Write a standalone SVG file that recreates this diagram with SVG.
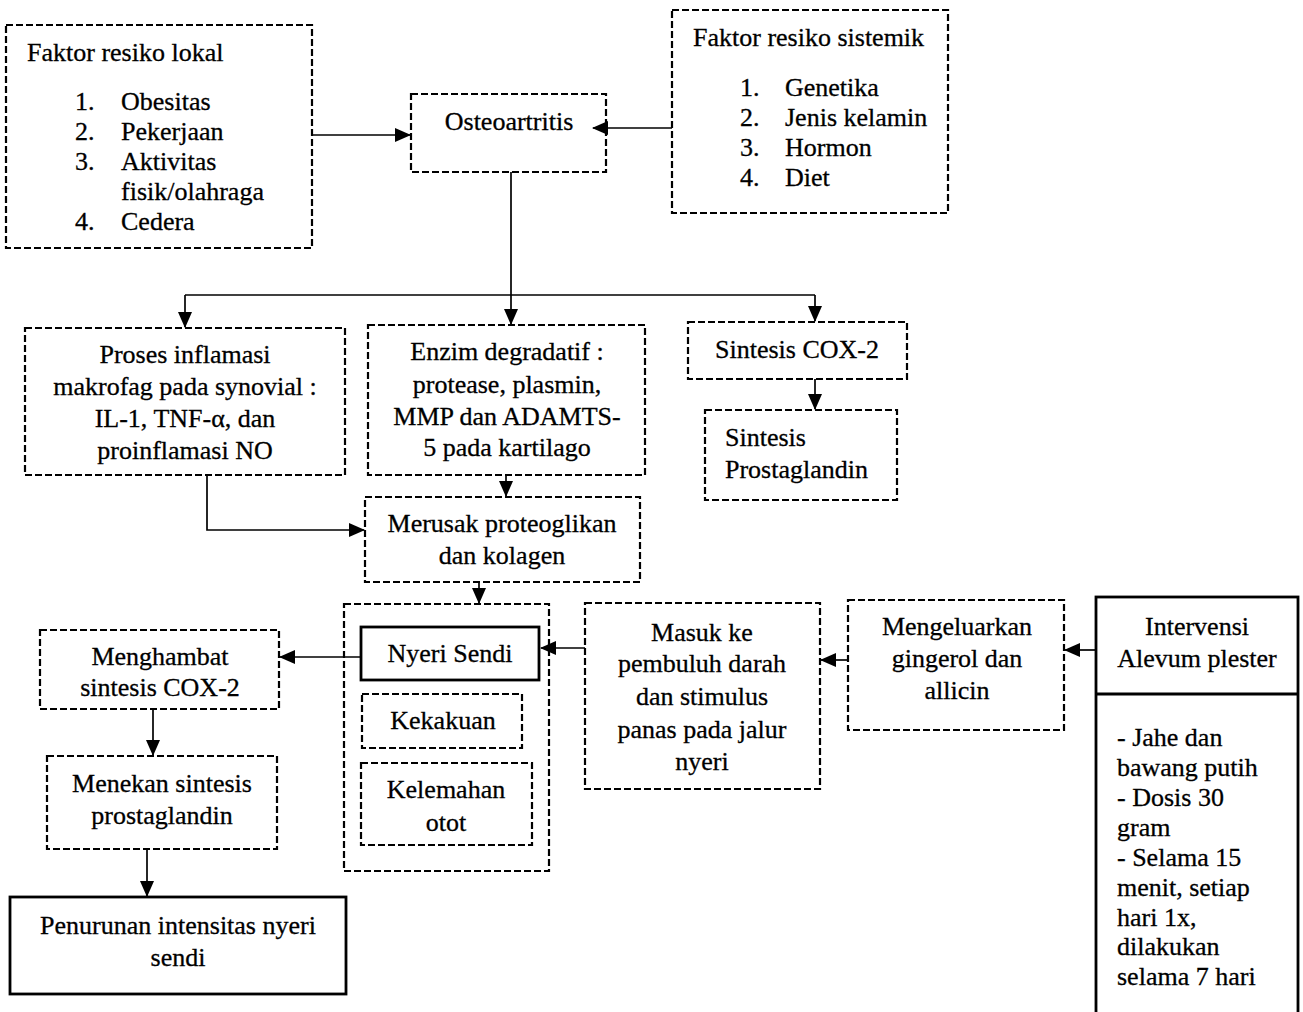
<svg xmlns="http://www.w3.org/2000/svg" width="1303" height="1012" viewBox="0 0 1303 1012">
<defs>
<style>
text{font-family:"Liberation Serif","Times New Roman",serif;font-size:26px;fill:#000;stroke:#000;stroke-width:0.3}
.c{text-anchor:middle}
.d{fill:none;stroke:#000;stroke-width:2.2;stroke-dasharray:7 3}
.s{fill:none;stroke:#000;stroke-width:2.8}
.ln{fill:none;stroke:#000;stroke-width:1.7}
</style>
<marker id="ah" markerUnits="userSpaceOnUse" markerWidth="16" markerHeight="14" refX="15" refY="7" orient="auto">
<path d="M0,0 L16,7 L0,14 Z" fill="#000"/>
</marker>
</defs>
<rect width="1303" height="1012" fill="#fff"/>

<g id="lokal">
<rect class="d" x="6" y="25" width="306" height="223"/>
<text x="27" y="61">Faktor resiko lokal</text>
<text x="75" y="110">1.</text><text x="121" y="110">Obesitas</text>
<text x="75" y="140">2.</text><text x="121" y="140">Pekerjaan</text>
<text x="75" y="170">3.</text><text x="121" y="170">Aktivitas</text>
<text x="121" y="200">fisik/olahraga</text>
<text x="75" y="230">4.</text><text x="121" y="230">Cedera</text>
</g>

<g id="osteo">
<rect class="d" x="411" y="94" width="195" height="78"/>
<text class="c" x="509" y="130">Osteoartritis</text>
</g>

<g id="sistemik">
<rect class="d" x="672" y="10" width="276" height="203"/>
<text x="693" y="46">Faktor resiko sistemik</text>
<text x="740" y="96">1.</text><text x="785" y="96">Genetika</text>
<text x="740" y="126">2.</text><text x="785" y="126">Jenis kelamin</text>
<text x="740" y="156">3.</text><text x="785" y="156">Hormon</text>
<text x="740" y="186">4.</text><text x="785" y="186">Diet</text>
</g>

<g id="inflamasi">
<rect class="d" x="25" y="328" width="320" height="147"/>
<text class="c" x="185" y="363">Proses inflamasi</text>
<text class="c" x="185" y="395">makrofag pada synovial :</text>
<text class="c" x="185" y="427">IL-1, TNF-α, dan</text>
<text class="c" x="185" y="459">proinflamasi NO</text>
</g>

<g id="enzim">
<rect class="d" x="368" y="325" width="277" height="150"/>
<text class="c" x="507" y="360">Enzim degradatif :</text>
<text class="c" x="507" y="393">protease, plasmin,</text>
<text class="c" x="507" y="425">MMP dan ADAMTS-</text>
<text class="c" x="507" y="456">5 pada kartilago</text>
</g>

<g id="cox2">
<rect class="d" x="688" y="322" width="219" height="57"/>
<text class="c" x="797" y="358">Sintesis COX-2</text>
</g>

<g id="prostaglandin">
<rect class="d" x="705" y="410" width="192" height="90"/>
<text x="725" y="446">Sintesis</text>
<text x="725" y="478">Prostaglandin</text>
</g>

<g id="merusak">
<rect class="d" x="365" y="497" width="275" height="85"/>
<text class="c" x="502" y="532">Merusak proteoglikan</text>
<text class="c" x="502" y="564">dan kolagen</text>
</g>

<g id="gejala">
<rect class="d" x="344" y="604" width="205" height="267"/>
</g>

<g id="nyeri">
<rect class="s" x="361" y="627" width="178" height="53"/>
<text class="c" x="450" y="662">Nyeri Sendi</text>
</g>

<g id="kekakuan">
<rect class="d" x="362" y="694" width="160" height="54"/>
<text class="c" x="443" y="729">Kekakuan</text>
</g>

<g id="kelemahan">
<rect class="d" x="361" y="763" width="171" height="82"/>
<text class="c" x="446" y="798">Kelemahan</text>
<text class="c" x="446" y="831">otot</text>
</g>

<g id="menghambat">
<rect class="d" x="40" y="630" width="239" height="79"/>
<text class="c" x="160" y="665">Menghambat</text>
<text class="c" x="160" y="696">sintesis COX-2</text>
</g>

<g id="menekan">
<rect class="d" x="47" y="756" width="230" height="93"/>
<text class="c" x="162" y="792">Menekan sintesis</text>
<text class="c" x="162" y="824">prostaglandin</text>
</g>

<g id="penurunan">
<rect class="s" x="10" y="897" width="336" height="97"/>
<text class="c" x="178" y="934">Penurunan intensitas nyeri</text>
<text class="c" x="178" y="966">sendi</text>
</g>

<g id="masuk">
<rect class="d" x="585" y="603" width="235" height="186"/>
<text class="c" x="702" y="641">Masuk ke</text>
<text class="c" x="702" y="672">pembuluh darah</text>
<text class="c" x="702" y="705">dan stimulus</text>
<text class="c" x="702" y="738">panas pada jalur</text>
<text class="c" x="702" y="770">nyeri</text>
</g>

<g id="mengeluarkan">
<rect class="d" x="848" y="600" width="216" height="130"/>
<text class="c" x="957" y="635">Mengeluarkan</text>
<text class="c" x="957" y="667">gingerol dan</text>
<text class="c" x="957" y="699">allicin</text>
</g>

<g id="intervensi">
<rect class="s" x="1096" y="597" width="202" height="420"/>
<line class="s" x1="1096" y1="694" x2="1298" y2="694"/>
<text class="c" x="1197" y="635">Intervensi</text>
<text class="c" x="1197" y="667">Alevum plester</text>
<text x="1117" y="746">- Jahe dan</text>
<text x="1117" y="776">bawang putih</text>
<text x="1117" y="806">- Dosis 30</text>
<text x="1117" y="836">gram</text>
<text x="1117" y="866">- Selama 15</text>
<text x="1117" y="896">menit, setiap</text>
<text x="1117" y="926">hari 1x,</text>
<text x="1117" y="955">dilakukan</text>
<text x="1117" y="985">selama 7 hari</text>
</g>

<g id="connectors">
<path class="ln" d="M312,135 H410" marker-end="url(#ah)"/>
<path class="ln" d="M672,128 H593" marker-end="url(#ah)"/>
<path class="ln" d="M511,172 V324" marker-end="url(#ah)"/>
<path class="ln" d="M185,295 H815"/>
<path class="ln" d="M185,295 V327" marker-end="url(#ah)"/>
<path class="ln" d="M815,295 V321" marker-end="url(#ah)"/>
<path class="ln" d="M815,379 V409" marker-end="url(#ah)"/>
<path class="ln" d="M506,475 V496" marker-end="url(#ah)"/>
<path class="ln" d="M207,475 V530 H364" marker-end="url(#ah)"/>
<path class="ln" d="M479,582 V603" marker-end="url(#ah)"/>
<path class="ln" d="M361,657 H280" marker-end="url(#ah)"/>
<path class="ln" d="M585,648 H541" marker-end="url(#ah)"/>
<path class="ln" d="M848,660 H821" marker-end="url(#ah)"/>
<path class="ln" d="M1096,650 H1065" marker-end="url(#ah)"/>
<path class="ln" d="M153,709 V755" marker-end="url(#ah)"/>
<path class="ln" d="M147,849 V896" marker-end="url(#ah)"/>
</g>
</svg>
